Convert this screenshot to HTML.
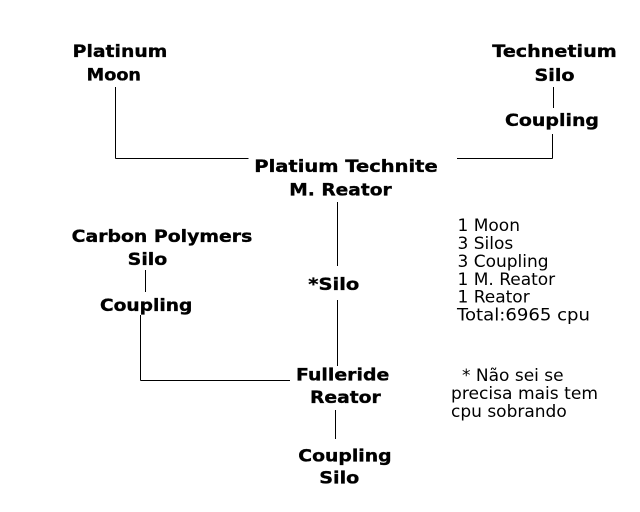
<!DOCTYPE html>
<html>
<head>
<meta charset="utf-8">
<style>
  html,body{margin:0;padding:0;background:#fff;}
  body{width:640px;height:512px;overflow:hidden;}
  svg{display:block;}
  .b{font-family:"DejaVu Sans","Liberation Sans",sans-serif;font-weight:bold;font-size:17px;fill:#000;stroke:#000;stroke-width:0.35px;}
  .r{font-family:"DejaVu Sans","Liberation Sans",sans-serif;font-size:17px;fill:#000;}
</style>
</head>
<body>
<svg width="640" height="512" viewBox="0 0 640 512" xmlns="http://www.w3.org/2000/svg">
  <rect width="640" height="512" fill="#fff"/>
  <g stroke="#000" stroke-width="1" fill="none">
    <line x1="115.5" y1="87" x2="115.5" y2="158.5"/>
    <line x1="115.5" y1="158.5" x2="248.5" y2="158.5"/>
    <line x1="457" y1="158.5" x2="552.5" y2="158.5"/>
    <line x1="552.5" y1="134" x2="552.5" y2="158.5"/>
    <line x1="553.5" y1="87" x2="553.5" y2="108"/>
    <line x1="337.5" y1="202" x2="337.5" y2="266"/>
    <line x1="337.5" y1="300" x2="337.5" y2="366"/>
    <line x1="140.5" y1="380.5" x2="290" y2="380.5"/>
    <line x1="140.5" y1="315" x2="140.5" y2="380.5"/>
    <line x1="145.5" y1="270" x2="145.5" y2="292"/>
    <line x1="335.5" y1="410" x2="335.5" y2="439"/>
  </g>

  <text class="b" x="72.7" y="57" textLength="94.6" lengthAdjust="spacingAndGlyphs">Platinum</text>
  <text class="b" x="86.7" y="80.5" textLength="54.3" lengthAdjust="spacingAndGlyphs">Moon</text>

  <text class="b" x="492.3" y="57" textLength="124.4" lengthAdjust="spacingAndGlyphs">Technetium</text>
  <text class="b" x="534.5" y="81" textLength="40" lengthAdjust="spacingAndGlyphs">Silo</text>
  <text class="b" x="505" y="126" textLength="94" lengthAdjust="spacingAndGlyphs">Coupling</text>

  <text class="b" x="254.3" y="172" textLength="183.4" lengthAdjust="spacingAndGlyphs">Platium Technite</text>
  <text class="b" x="289.3" y="195.5" textLength="102.4" lengthAdjust="spacingAndGlyphs">M. Reator</text>

  <text class="b" x="71.7" y="242" textLength="180.6" lengthAdjust="spacingAndGlyphs">Carbon Polymers</text>
  <text class="b" x="127.7" y="265" textLength="39.6" lengthAdjust="spacingAndGlyphs">Silo</text>
  <text class="b" x="100" y="311" textLength="92.3" lengthAdjust="spacingAndGlyphs">Coupling</text>

  <text class="b" x="308.3" y="290" textLength="51" lengthAdjust="spacingAndGlyphs">*Silo</text>

  <text class="b" x="296" y="380.7" textLength="93.3" lengthAdjust="spacingAndGlyphs">Fulleride</text>
  <text class="b" x="310" y="403" textLength="70.7" lengthAdjust="spacingAndGlyphs">Reator</text>

  <text class="b" x="298.3" y="461.5" textLength="93.3" lengthAdjust="spacingAndGlyphs">Coupling</text>
  <text class="b" x="319.3" y="483.5" textLength="40" lengthAdjust="spacingAndGlyphs">Silo</text>

  <text class="r" x="457.5" y="231">1 Moon</text>
  <text class="r" x="457.5" y="249">3 Silos</text>
  <text class="r" x="457.5" y="267">3 Coupling</text>
  <text class="r" x="457.5" y="285">1 M. Reator</text>
  <text class="r" x="457.5" y="302.5">1 Reator</text>
  <text class="r" x="457" y="320.5" textLength="133" lengthAdjust="spacingAndGlyphs">Total:6965 cpu</text>

  <text class="r" x="462" y="381">* Não sei se</text>
  <text class="r" x="451" y="399" textLength="147" lengthAdjust="spacingAndGlyphs">precisa mais tem</text>
  <text class="r" x="451" y="417">cpu sobrando</text>
</svg>
</body>
</html>
